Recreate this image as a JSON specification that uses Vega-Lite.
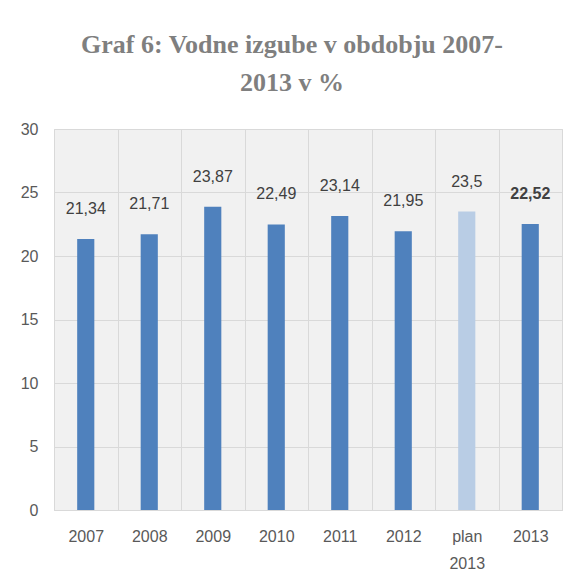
{
  "$schema": "https://vega.github.io/schema/vega-lite/v6.json",
  "autosize": "none",
  "width": 508,
  "height": 381,
  "padding": {"left": 54, "top": 129, "right": 13, "bottom": 77},
  "background": "white",
  "config": {
    "locale": {"number": {"decimal": ",", "thousands": ".", "grouping": [3], "currency": ["", " €"]}},
    "view": {"stroke": "#d9d9d9", "fill": "#f1f1f1"},
    "font": "Liberation Sans"
  },
  "title": {
    "text": ["Graf 6: Vodne izgube v obdobju 2007-", "2013 v %"],
    "font": "Liberation Serif",
    "fontWeight": "bold",
    "fontSize": 26,
    "lineHeight": 38,
    "color": "#7f7f7f",
    "anchor": "middle",
    "dx": -16,
    "offset": 25
  },
  "data": {
    "values": [
      {"leto": "2007", "vrednost": 21.34, "tip": "dejansko"},
      {"leto": "2008", "vrednost": 21.71, "tip": "dejansko"},
      {"leto": "2009", "vrednost": 23.87, "tip": "dejansko"},
      {"leto": "2010", "vrednost": 22.49, "tip": "dejansko"},
      {"leto": "2011", "vrednost": 23.14, "tip": "dejansko"},
      {"leto": "2012", "vrednost": 21.95, "tip": "dejansko"},
      {"leto": "plan 2013", "vrednost": 23.5, "tip": "plan"},
      {"leto": "2013", "vrednost": 22.52, "tip": "dejansko"}
    ]
  },
  "encoding": {
    "x": {
      "field": "leto",
      "type": "nominal",
      "sort": null,
      "scale": {"paddingInner": 0, "paddingOuter": 0},
      "axis": {
        "title": null,
        "labelAngle": 0,
        "tickBand": "extent",
        "grid": true,
        "gridColor": "#d9d9d9",
        "ticks": false,
        "domainColor": "#d9d9d9",
        "labelPadding": 18,
        "labelFontSize": 16,
        "labelColor": "#595959",
        "labelLineHeight": 27,
        "labelExpr": "datum.label == 'plan 2013' ? ['plan', '2013'] : datum.label"
      }
    },
    "y": {
      "field": "vrednost",
      "type": "quantitative",
      "scale": {"domain": [0, 30]},
      "axis": {
        "title": null,
        "values": [0, 5, 10, 15, 20, 25, 30],
        "grid": true,
        "gridColor": "#d9d9d9",
        "ticks": false,
        "domain": false,
        "labelPadding": 16,
        "labelFontSize": 16,
        "labelColor": "#595959"
      }
    }
  },
  "layer": [
    {
      "mark": {"type": "bar", "width": {"band": 0.27}},
      "encoding": {
        "color": {
          "field": "tip",
          "type": "nominal",
          "scale": {"domain": ["dejansko", "plan"], "range": ["#4f81bd", "#b9cde5"]},
          "legend": null
        }
      }
    },
    {
      "transform": [{"filter": "datum.leto != '2013'"}],
      "mark": {"type": "text", "baseline": "bottom", "dy": -22, "fontSize": 16, "color": "#404040"},
      "encoding": {
        "text": {"field": "vrednost", "type": "quantitative", "format": ".2~f"}
      }
    },
    {
      "transform": [{"filter": "datum.leto == '2013'"}],
      "mark": {"type": "text", "baseline": "bottom", "dy": -22, "fontSize": 16, "fontWeight": "bold", "color": "#404040"},
      "encoding": {
        "text": {"field": "vrednost", "type": "quantitative", "format": ".2~f"}
      }
    }
  ]
}
